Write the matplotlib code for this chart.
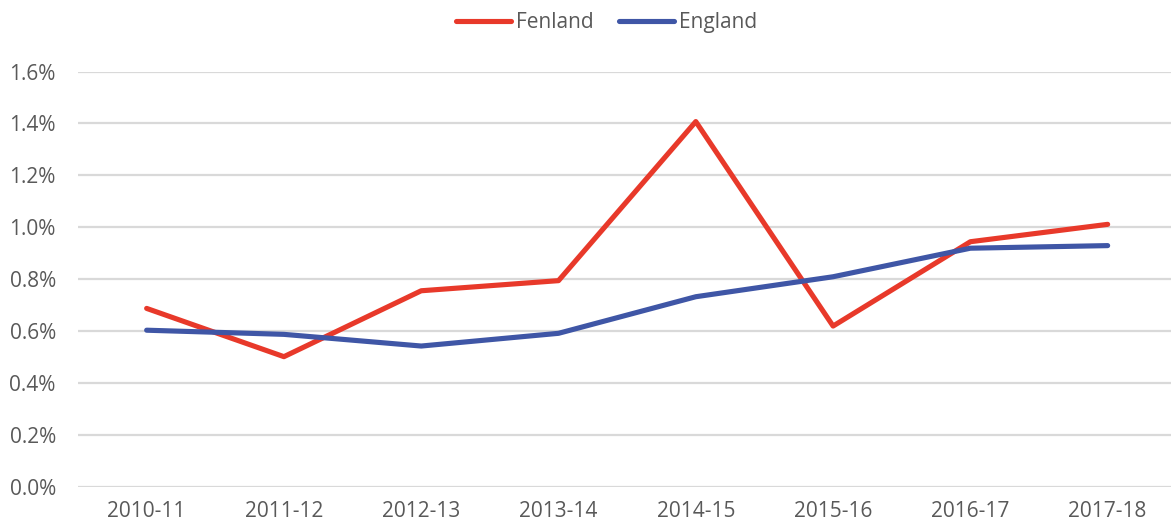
import matplotlib.pyplot as plt
from matplotlib.ticker import FuncFormatter

years = ['2010-11', '2011-12', '2012-13', '2013-14',
         '2014-15', '2015-16', '2016-17', '2017-18']
fenland = [0.687, 0.501, 0.755, 0.794, 1.407, 0.619, 0.944, 1.011]
england = [0.603, 0.587, 0.542, 0.591, 0.732, 0.809, 0.919, 0.929]

plt.rcParams['font.family'] = ['Open Sans', 'DejaVu Sans']

fig = plt.figure(figsize=(11.71, 5.32), dpi=100)
ax = fig.add_axes([78 / 1171, 0.0852, 1098.3 / 1171, 0.7804])

x = range(len(years))
ax.plot(x, fenland, color='#E8392A', lw=3.7, label='Fenland', solid_capstyle='round')
ax.plot(x, england, color='#3F56A6', lw=3.7, label='England', solid_capstyle='round')

ax.set_xlim(-0.5, len(years) - 0.5)
ax.set_ylim(0, 1.6)
ax.set_yticks([0, 0.2, 0.4, 0.6, 0.8, 1.0, 1.2, 1.4, 1.6])
ax.yaxis.set_major_formatter(FuncFormatter(lambda v, p: f'{v:.1f}%'))
ax.set_xticks(list(x))
ax.set_xticklabels(years)

ax.grid(axis='y', color='#D9D9D9', lw=1.6)
ax.set_axisbelow(True)
for s in ax.spines.values():
    s.set_visible(False)
ax.tick_params(length=0, labelsize=15, colors='#595959')
ax.tick_params(axis='x', pad=10)
ax.tick_params(axis='y', pad=16)

leg = fig.legend(loc='upper center', bbox_to_anchor=(0.518, 1.012), ncol=2, frameon=False,
                 fontsize=15, handlelength=2.65, handletextpad=0.25, columnspacing=1.2)
for t in leg.get_texts():
    t.set_color('#595959')

fig.savefig('out.png', dpi=100)
